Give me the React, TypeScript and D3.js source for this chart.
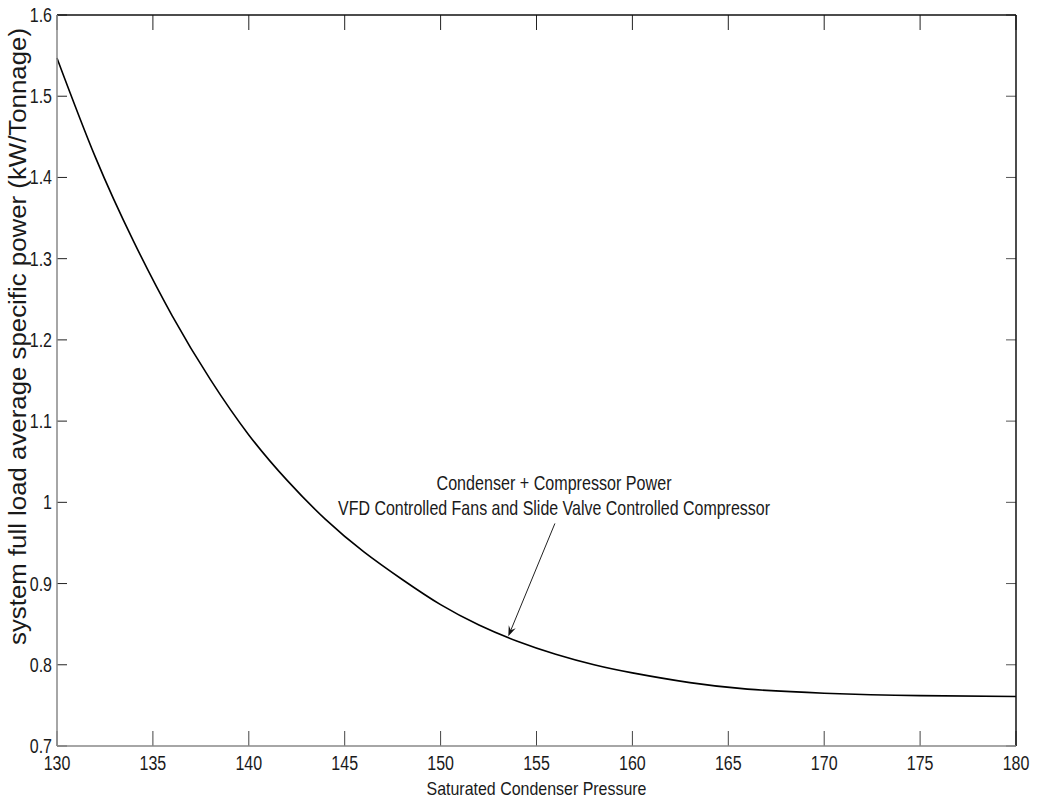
import React from 'react';
import * as d3 from 'd3';

// data
const pressure = [130, 132, 134, 136, 138, 140, 142, 144, 146, 148, 150, 152, 154, 156, 158, 160, 163, 166, 170, 175, 180];
const specificPower = [1.547, 1.425, 1.321, 1.230, 1.151, 1.083, 1.027, 0.979, 0.939, 0.905, 0.874, 0.849, 0.829, 0.813, 0.800, 0.790, 0.778, 0.770, 0.765, 0.762, 0.761];
const xTicks = [130, 135, 140, 145, 150, 155, 160, 165, 170, 175, 180];
const yTicks = [0.7, 0.8, 0.9, 1, 1.1, 1.2, 1.3, 1.4, 1.5, 1.6];
const noteLines = ['Condenser + Compressor Power', 'VFD Controlled Fans and Slide Valve Controlled Compressor'];
const noteWidths = [235, 432];
const arrowTail = [155.96, 0.974];
const arrowHead = [153.53, 0.835];

const W = 1041, H = 803;
const left = 57, right = 1016, top = 15, bottom = 746;
const font = "'Liberation Sans', Arial, sans-serif";

export default function App() {
  const x = d3.scaleLinear().domain([130, 180]).range([left, right]);
  const y = d3.scaleLinear().domain([0.7, 1.6]).range([bottom, top]);

  const line = d3.line<number>()
    .x((d, i) => x(pressure[i]))
    .y(d => y(d))
    .curve(d3.curveNatural);

  const hx = x(arrowHead[0]), hy = y(arrowHead[1]);
  const tx = x(arrowTail[0]), ty = y(arrowTail[1]);
  const ang = Math.atan2(hy - ty, hx - tx);
  const aLen = 11, aW = 0.35;
  const headPts = [
    [hx, hy],
    [hx - aLen * Math.cos(ang - aW), hy - aLen * Math.sin(ang - aW)],
    [hx - aLen * 0.6 * Math.cos(ang), hy - aLen * 0.6 * Math.sin(ang)],
    [hx - aLen * Math.cos(ang + aW), hy - aLen * Math.sin(ang + aW)],
  ];

  return (
    <div style={{ position: 'absolute', left: 0, top: 0 }}>
      <svg width={W} height={H} style={{ display: 'block', background: '#fff' }} fontFamily={font}>
        {/* curve */}
        <path d={line(specificPower) || ''} fill="none" stroke="#000" strokeWidth={1.6} />

        {/* ticks */}
        {xTicks.map(t => (
          <g key={'x' + t}>
            <line x1={x(t)} x2={x(t)} y1={bottom} y2={bottom - 15} stroke="#444" strokeWidth={1} />
            <line x1={x(t)} x2={x(t)} y1={top} y2={top + 15} stroke="#222" strokeWidth={1} />
            <text transform={`translate(${x(t)},${bottom + 24}) scale(0.8,1)`} textAnchor="middle" fontSize={20} fill="#1a1a1a">{t}</text>
          </g>
        ))}
        {yTicks.map(t => (
          <g key={'y' + t}>
            <line x1={left} x2={left + 10} y1={y(t)} y2={y(t)} stroke="#222" strokeWidth={1} />
            <line x1={right} x2={right - 10} y1={y(t)} y2={y(t)} stroke="#555" strokeWidth={1} />
            <text transform={`translate(${left - 5},${y(t) + 7}) scale(0.8,1)`} textAnchor="end" fontSize={20} fill="#1a1a1a">{+t.toFixed(1)}</text>
          </g>
        ))}

        {/* frame */}
        <line x1={left} x2={right} y1={top} y2={top} stroke="#111" strokeWidth={1.5} />
        <line x1={right} x2={right} y1={top} y2={bottom} stroke="#111" strokeWidth={1.5} />
        <line x1={left} x2={left} y1={top} y2={bottom} stroke="#888" strokeWidth={1.5} />
        <line x1={left} x2={right} y1={bottom} y2={bottom} stroke="#888" strokeWidth={1.5} />

        {/* axis labels */}
        <text x={(left + right) / 2} y={795} textAnchor="middle" fontSize={19} textLength={220}
          lengthAdjust="spacingAndGlyphs" fill="#1a1a1a">Saturated Condenser Pressure</text>
        <text transform={`translate(26, ${(28 + 645) / 2}) rotate(-90)`} textAnchor="middle" fontSize={23}
          textLength={617} lengthAdjust="spacingAndGlyphs" fill="#1a1a1a">
          system full load average specific power (kW/Tonnage)
        </text>

        {/* annotation */}
        {noteLines.map((s, i) => (
          <text key={s} x={554} y={490 + i * 25} textAnchor="middle" fontSize={21} textLength={noteWidths[i]}
            lengthAdjust="spacingAndGlyphs" fill="#1a1a1a">{s}</text>
        ))}
        <line x1={tx} y1={ty} x2={hx - 5 * Math.cos(ang)} y2={hy - 5 * Math.sin(ang)} stroke="#222" strokeWidth={1} />
        <polygon points={headPts.map(p => p.join(',')).join(' ')} fill="#111" />
      </svg>
    </div>
  );
}
